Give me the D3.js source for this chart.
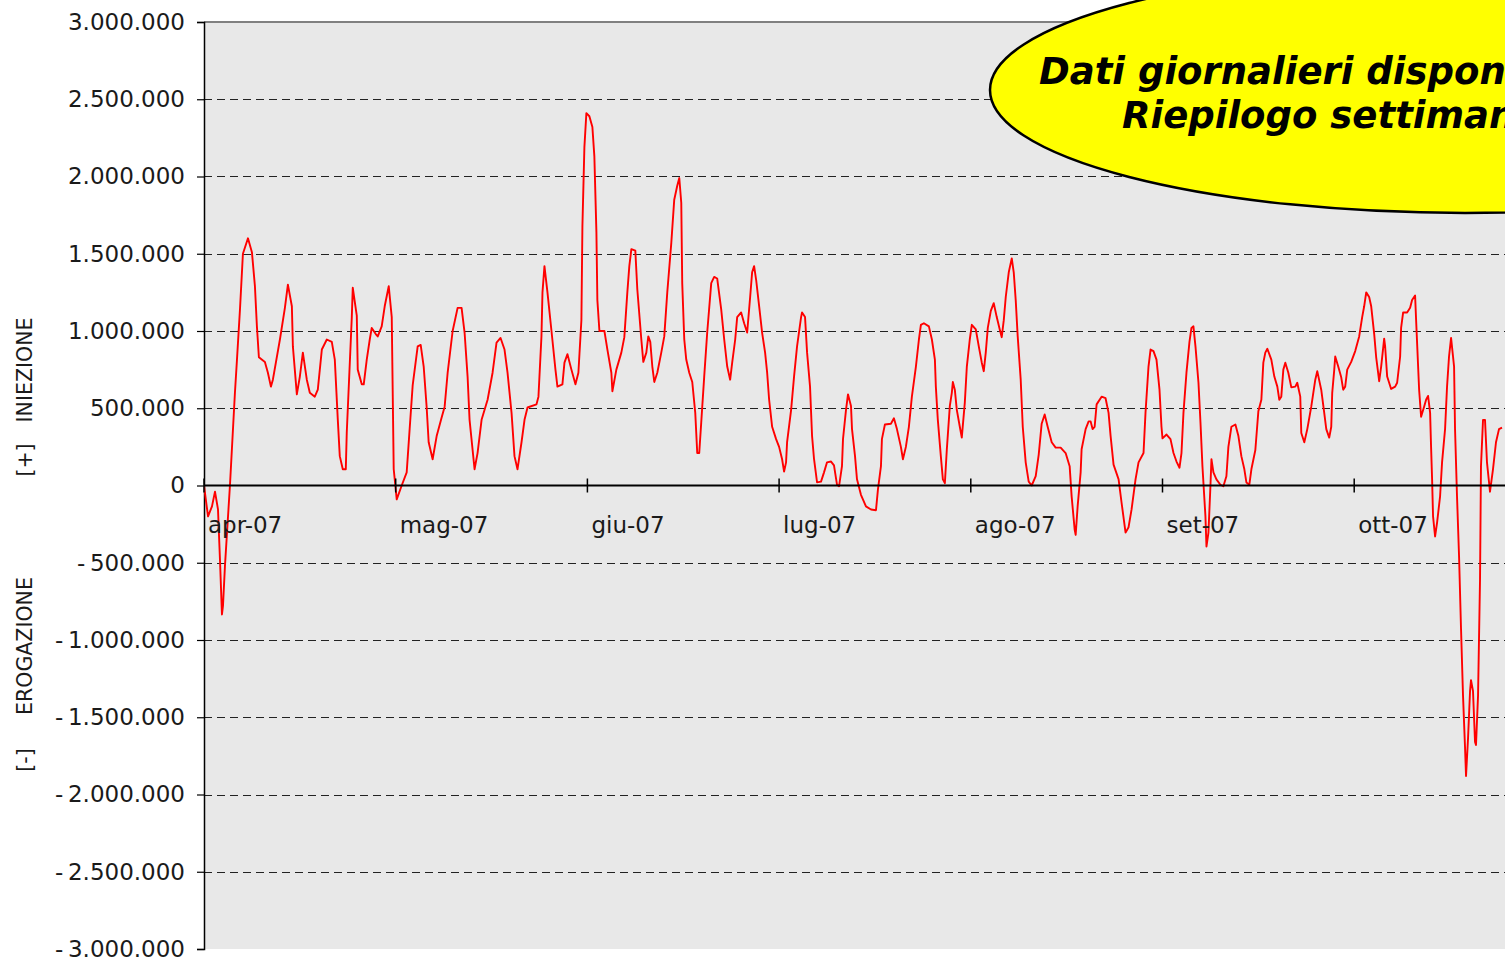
<!DOCTYPE html>
<html><head><meta charset="utf-8">
<script src="https://cdn.jsdelivr.net/npm/d3@7"></script>
<style>html,body{margin:0;padding:0;background:#fff;overflow:hidden}</style>
</head><body><svg id="c" width="1505" height="961"></svg>
<script>
// Etichette mesi e posizione (giorni dal 1 aprile 2007)
const mesi = ["apr-07","mag-07","giu-07","lug-07","ago-07","set-07","ott-07"];
const giorniMesi = [0,30,60,90,120,150,180];
// Tick asse Y
const yTicks = [-3000000,-2500000,-2000000,-1500000,-1000000,-500000,0,500000,1000000,1500000,2000000,2500000,3000000];
// Testi
const titoloPiu = ["[+]","INIEZIONE"];
const titoloMeno = ["[-]","EROGAZIONE"];
const testoRiquadro = ["Dati giornalieri disponibili","Riepilogo settimanale"];
// Serie: [giorno dal 1 aprile 2007, valore in migliaia]
const serie = [[0,0],[0.63,-200],[1.25,-135],[1.72,-40],[2.19,-155],[2.5,-480],[2.81,-835],[2.97,-780],[3.28,-520],[4.06,0],[4.84,600],[5.16,815],[5.63,1140],[6.09,1500],[6.88,1600],[7.5,1510],[7.97,1290],[8.28,1030],[8.59,830],[9.53,800],[10.0,730],[10.47,640],[10.78,685],[11.88,945],[12.66,1150],[13.13,1300],[13.75,1160],[13.91,900],[14.53,590],[15.0,705],[15.47,860],[16.09,685],[16.56,600],[17.34,575],[17.81,620],[18.44,880],[19.22,945],[20.0,930],[20.47,815],[20.94,425],[21.25,190],[21.72,105],[22.19,105],[22.34,340],[23.13,1090],[23.28,1280],[23.91,1100],[24.06,750],[24.69,655],[25.0,655],[25.47,815],[25.94,945],[26.25,1020],[26.88,980],[27.19,965],[27.81,1030],[28.28,1160],[28.91,1290],[29.38,1090],[29.69,105],[30.16,-90],[30.94,0],[31.72,85],[32.19,370],[32.66,650],[33.44,900],[33.91,910],[34.38,770],[34.84,510],[35.16,280],[35.78,170],[36.41,320],[37.19,440],[37.66,510],[38.13,730],[38.91,1000],[39.69,1150],[40.31,1150],[40.78,990],[41.25,705],[41.56,425],[42.34,105],[42.81,210],[43.44,425],[44.38,555],[45.16,730],[45.78,925],[46.41,955],[47.03,880],[47.5,730],[48.13,470],[48.59,190],[49.06,105],[49.69,280],[50.16,425],[50.63,505],[52.03,525],[52.34,575],[52.81,965],[52.97,1250],[53.28,1420],[53.75,1250],[54.38,1000],[55.0,750],[55.31,640],[56.09,655],[56.41,795],[56.88,850],[57.5,750],[58.13,655],[58.59,730],[59.06,1070],[59.22,1680],[59.53,2190],[59.84,2410],[60.31,2390],[60.78,2320],[61.09,2130],[61.41,1640],[61.56,1200],[61.88,1000],[62.66,1000],[63.13,880],[63.75,730],[63.91,610],[64.53,750],[65.31,860],[65.78,960],[66.25,1250],[66.56,1420],[66.88,1530],[67.5,1520],[67.81,1270],[68.44,945],[68.75,800],[69.22,860],[69.53,965],[69.84,930],[70.16,770],[70.47,670],[70.94,730],[71.56,860],[72.03,965],[72.5,1250],[73.13,1570],[73.59,1850],[74.06,1940],[74.38,1990],[74.69,1830],[74.84,1310],[75.16,945],[75.47,815],[75.94,730],[76.41,670],[76.88,470],[77.19,210],[77.5,210],[77.81,405],[78.28,705],[78.75,990],[79.38,1310],[79.84,1350],[80.31,1340],[80.94,1140],[81.41,945],[81.88,770],[82.34,685],[82.66,795],[83.13,945],[83.44,1090],[84.06,1120],[84.53,1050],[85.0,990],[85.47,1220],[85.78,1380],[86.09,1420],[86.41,1330],[86.88,1160],[87.34,990],[87.81,860],[88.13,730],[88.44,555],[88.91,380],[89.53,300],[90.0,250],[90.47,170],[90.78,90],[91.09,150],[91.25,280],[91.88,490],[92.34,705],[92.81,900],[93.44,1090],[93.59,1120],[94.06,1090],[94.38,860],[94.84,640],[95.16,320],[95.47,170],[95.94,20],[96.56,25],[97.03,85],[97.5,150],[98.13,155],[98.59,130],[99.06,5],[99.38,-5],[99.84,125],[100.0,300],[100.47,490],[100.78,590],[101.25,515],[101.41,365],[101.88,190],[102.19,40],[102.81,-60],[103.59,-135],[104.38,-155],[105.16,-160],[105.47,-25],[105.94,125],[106.09,300],[106.56,395],[107.5,400],[107.97,435],[108.44,365],[109.06,250],[109.38,170],[109.84,250],[110.31,380],[110.78,575],[111.41,770],[111.88,945],[112.19,1040],[112.66,1050],[113.44,1030],[113.91,945],[114.38,815],[114.53,640],[114.84,425],[115.31,190],[115.63,40],[115.94,15],[116.25,235],[116.72,515],[117.03,600],[117.19,670],[117.5,620],[117.81,490],[118.28,380],[118.59,310],[119.06,535],[119.38,770],[119.84,945],[120.16,1040],[120.78,1010],[121.25,900],[121.72,795],[122.03,740],[122.34,860],[122.66,1020],[123.13,1130],[123.59,1180],[124.06,1090],[124.53,1010],[124.84,960],[125.16,1070],[125.47,1220],[125.94,1380],[126.41,1470],[126.72,1380],[127.03,1200],[127.34,965],[127.81,685],[128.13,380],[128.59,150],[129.06,25],[129.53,0],[130.16,60],[130.63,200],[131.09,400],[131.56,460],[132.03,380],[132.66,280],[133.28,245],[134.06,245],[134.84,210],[135.47,125],[135.78,-70],[136.25,-285],[136.41,-320],[136.72,-135],[137.19,85],[137.34,235],[137.97,365],[138.44,415],[138.75,415],[139.06,365],[139.38,380],[139.69,525],[140.47,575],[141.09,565],[141.56,470],[141.88,320],[142.34,135],[143.13,40],[143.59,-110],[144.22,-305],[144.69,-270],[145.16,-155],[145.78,40],[146.25,150],[147.03,210],[147.34,470],[147.81,770],[148.13,880],[148.59,870],[149.06,815],[149.53,620],[149.84,380],[150.0,305],[150.63,330],[151.25,300],[151.72,210],[152.19,155],[152.66,115],[152.97,210],[153.28,470],[153.75,730],[154.22,930],[154.53,1020],[154.84,1030],[155.16,900],[155.63,665],[155.94,410],[156.25,125],[156.72,-200],[156.88,-395],[157.19,-305],[157.5,-5],[157.66,170],[157.97,85],[158.44,40],[159.06,5],[159.53,-5],[160.0,60],[160.31,250],[160.78,380],[161.41,395],[161.88,320],[162.34,190],[162.81,105],[163.13,20],[163.59,5],[163.91,105],[164.53,230],[165.0,480],[165.47,555],[165.78,795],[166.09,860],[166.41,885],[167.03,815],[167.5,705],[167.97,640],[168.28,555],[168.59,575],[168.91,750],[169.22,795],[169.69,730],[170.16,635],[170.78,640],[171.09,665],[171.56,575],[171.72,340],[172.19,280],[172.66,365],[173.28,510],[173.91,685],[174.22,740],[174.84,620],[175.31,470],[175.63,365],[176.09,310],[176.41,380],[176.56,600],[176.88,750],[177.03,835],[177.5,770],[177.97,700],[178.28,620],[178.59,640],[178.91,750],[179.53,800],[180.16,870],[180.78,965],[181.25,1090],[181.56,1160],[181.88,1250],[182.34,1220],[182.66,1160],[183.13,980],[183.44,830],[183.91,675],[184.22,770],[184.69,950],[184.84,900],[185.16,705],[185.78,625],[186.41,640],[186.72,665],[187.19,835],[187.34,1020],[187.66,1120],[188.28,1120],[188.75,1150],[189.06,1200],[189.53,1230],[189.69,1070],[190.16,620],[190.47,445],[190.94,510],[191.25,555],[191.56,580],[191.88,470],[192.03,250],[192.19,40],[192.34,-200],[192.66,-330],[192.97,-240],[193.44,-70],[193.75,150],[194.22,365],[194.53,640],[194.84,835],[195.16,955],[195.63,770],[195.78,365],[196.09,-70],[196.41,-460],[196.72,-930],[197.03,-1360],[197.34,-1690],[197.5,-1880],[197.81,-1640],[198.13,-1330],[198.28,-1260],[198.59,-1330],[198.91,-1660],[199.06,-1680],[199.38,-1360],[199.69,-610],[199.84,125],[200.16,425],[200.47,425],[200.78,150],[201.25,-40],[201.72,105],[202.19,280],[202.66,365],[203.13,375]];

const svg = d3.select("#c");
const pLeft = 204, pTop = 22, pBottom = 949, W = 1505;
const x = d3.scaleLinear().domain([0, 210]).range([pLeft, pLeft + 6.39 * 210]);
const y = d3.scaleLinear().domain([-3000000, 3000000]).range([pBottom, pTop]);
const loc = d3.formatLocale({decimal: ",", thousands: ".", grouping: [3], currency: ["€", ""], minus: "-\u2009"});
const fmt = loc.format(",d");
const FONT = "'DejaVu Sans', Verdana, sans-serif";

svg.append("rect").attr("width", W).attr("height", 961).attr("fill", "#fff");
svg.append("rect").attr("x", pLeft).attr("y", pTop).attr("width", 1400).attr("height", pBottom - pTop).attr("fill", "#e8e8e8");
svg.append("line").attr("x1", pLeft).attr("x2", W).attr("y1", pTop).attr("y2", pTop).attr("stroke", "#808080").attr("stroke-width", 2);

// griglia tratteggiata
svg.append("g").selectAll("line").data(yTicks.filter(v => v !== 0 && Math.abs(v) < 3000000)).join("line")
  .attr("x1", pLeft).attr("x2", W)
  .attr("y1", d => Math.round(y(d)) + 0.5).attr("y2", d => Math.round(y(d)) + 0.5)
  .attr("stroke", "#222").attr("stroke-width", 1).attr("stroke-dasharray", "8,5");

// asse y
const gy = svg.append("g").attr("transform", `translate(${pLeft},0)`)
  .call(d3.axisLeft(y).tickValues(yTicks).tickFormat(fmt).tickSize(7).tickPadding(12));
gy.select(".domain").attr("stroke", "#000").attr("stroke-width", 1.5);
gy.selectAll(".tick line").attr("stroke", "#000").attr("stroke-width", 1.2);
gy.selectAll(".tick text").attr("font-family", FONT).attr("font-size", 23).attr("fill", "#1a1a1a");

// linea
svg.append("clipPath").attr("id", "cp").append("rect")
  .attr("x", pLeft).attr("y", pTop).attr("width", 1400).attr("height", pBottom - pTop);
svg.append("path").datum(serie)
  .attr("clip-path", "url(#cp)")
  .attr("fill", "none").attr("stroke", "#ff0000").attr("stroke-width", 1.9).attr("stroke-linejoin", "round")
  .attr("d", d3.line().x(d => x(d[0])).y(d => y(d[1] * 1000)));

// asse zero
const y0 = y(0);
svg.append("line").attr("x1", pLeft).attr("x2", W).attr("y1", y0).attr("y2", y0).attr("stroke", "#000").attr("stroke-width", 2);
svg.append("g").selectAll("line").data(giorniMesi).join("line")
  .attr("x1", d => x(d)).attr("x2", d => x(d)).attr("y1", y0 - 7).attr("y2", y0 + 7)
  .attr("stroke", "#000").attr("stroke-width", 1.5);
svg.append("g").selectAll("text").data(giorniMesi).join("text")
  .attr("x", d => x(d) + 4).attr("y", y0 + 47)
  .attr("font-family", FONT).attr("font-size", 23).attr("fill", "#1a1a1a")
  .text((d, i) => mesi[i]);

// titoli asse Y
function vtext(t, cy) {
  svg.append("text").attr("transform", `translate(32,${cy}) rotate(-90)`)
    .attr("text-anchor", "middle").attr("font-family", FONT).attr("font-size", 20.5)
    .attr("fill", "#1a1a1a").text(t);
}
vtext(titoloPiu[0], 460); vtext(titoloPiu[1], 370);
vtext(titoloMeno[0], 760); vtext(titoloMeno[1], 646);

// riquadro ellisse
svg.append("ellipse").attr("cx", 1465).attr("cy", 90).attr("rx", 475).attr("ry", 123)
  .attr("fill", "#ffff00").attr("stroke", "#000").attr("stroke-width", 2.5);
svg.append("text").attr("x", 1039).attr("y", 84).attr("font-family", FONT)
  .attr("font-size", 37).attr("font-weight", "bold").attr("font-style", "italic").attr("fill", "#000")
  .text(testoRiquadro[0]);
svg.append("text").attr("x", 1122).attr("y", 128).attr("font-family", FONT)
  .attr("font-size", 37).attr("font-weight", "bold").attr("font-style", "italic").attr("fill", "#000")
  .text(testoRiquadro[1]);
</script></body></html>
